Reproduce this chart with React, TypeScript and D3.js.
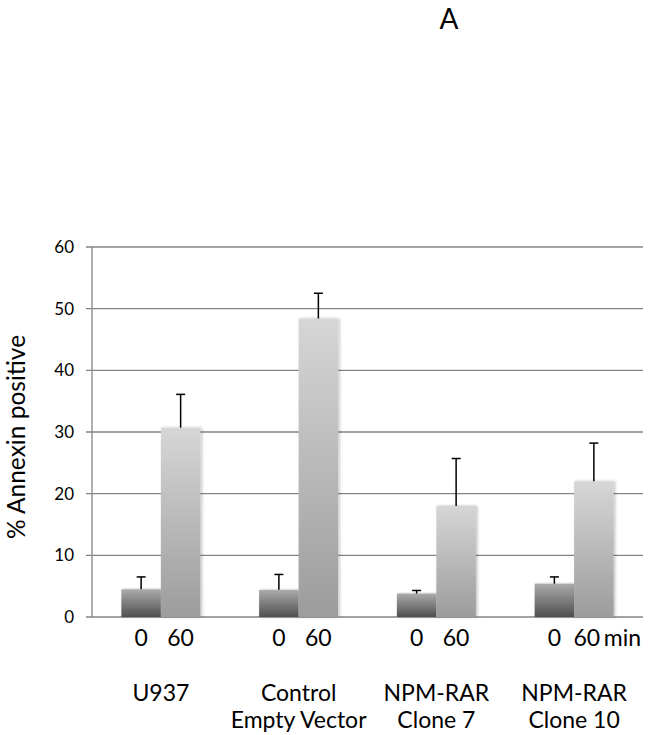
import React from "react";
import * as d3 from "d3";

const groups = ["U937", "Control|Empty Vector", "NPM-RAR|Clone 7", "NPM-RAR|Clone 10"];
const times = ["0", "60"];
const values0 = [4.5, 4.4, 3.8, 5.4];
const values60 = [30.7, 48.4, 18.0, 22.0];
const err0 = [2.0, 2.5, 0.5, 1.1];
const err60 = [5.4, 4.1, 7.7, 6.2];
const yTicks = [0, 10, 20, 30, 40, 50, 60];

const W = 652;
const H = 735;
const left = 92;
const right = 643;
const top = 247;
const bottom = 617;
const FONT = "Lato, 'Open Sans', sans-serif";

export default function App() {
  const x = d3.scaleBand<string>().domain(groups).range([left, right]).paddingInner(0).paddingOuter(0);
  const xs = d3.scaleBand<string>().domain(times).range([0, x.bandwidth()]).paddingInner(0).paddingOuter(0.744);
  const y = d3.scaleLinear().domain([0, 60]).range([bottom, top]);

  const series = [
    { key: "0", vals: values0, errs: err0, fill: "url(#g0)" },
    { key: "60", vals: values60, errs: err60, fill: "url(#g60)" },
  ];

  return (
    <div style={{ position: "absolute", left: 0, top: 0 }}>
      <svg width={W} height={H} style={{ display: "block", background: "#fff" }}>
        <defs>
          <linearGradient id="g0" x1="0" y1="0" x2="0" y2="1">
            <stop offset="0" stopColor="#ababab" />
            <stop offset="1" stopColor="#4f4f4f" />
          </linearGradient>
          <linearGradient id="g60" x1="0" y1="0" x2="0" y2="1">
            <stop offset="0" stopColor="#d6d6d6" />
            <stop offset="1" stopColor="#9c9c9c" />
          </linearGradient>
          <filter id="sh" x="-20%" y="-5%" width="140%" height="110%">
            <feDropShadow dx="1.5" dy="0" stdDeviation="1.5" floodColor="#000" floodOpacity="0.25" />
          </filter>
        </defs>

        <text x={449} y={29} textAnchor="middle" fontFamily={FONT} fontSize={28} fill="#000">A</text>

        {yTicks.map((t) => (
          <g key={t}>
            <line x1={left - 6} x2={right} y1={y(t)} y2={y(t)} stroke="#858585" strokeWidth={1.3} />
            <text x={74} y={y(t)} dy="0.35em" textAnchor="end" fontFamily={FONT} fontSize={17} fill="#000">{t}</text>
          </g>
        ))}
        <line x1={left} x2={left} y1={top} y2={bottom} stroke="#858585" strokeWidth={1.3} />

        {series.map((s) =>
          groups.map((g, i) => {
            const bx = (x(g) as number) + (xs(s.key) as number);
            const bw = xs.bandwidth();
            const v = s.vals[i];
            const cx = bx + bw / 2;
            return (
              <g key={s.key + g}>
                <rect x={bx} y={y(v)} width={bw} height={y(0) - y(v)} fill={s.fill} filter="url(#sh)" />
                <line x1={cx} x2={cx} y1={y(v)} y2={y(v + s.errs[i])} stroke="#000" strokeWidth={1.5} />
                <line x1={cx - 4.5} x2={cx + 4.5} y1={y(v + s.errs[i])} y2={y(v + s.errs[i])} stroke="#000" strokeWidth={1.5} />
              </g>
            );
          })
        )}

        {groups.map((g, i) =>
          times.map((t) => {
            const last = i === groups.length - 1 && t === "60";
            const cx = (x(g) as number) + (xs(t) as number) + xs.bandwidth() / 2 - (last ? 7 : 0);
            return (
              <text key={g + t} x={cx} y={646} textAnchor="middle" fontFamily={FONT} fontSize={23} fill="#000">{t}</text>
            );
          })
        )}
        <text x={(x(groups[3]) as number) + (xs("60") as number) + xs.bandwidth() / 2 + 10} y={646} fontFamily={FONT} fontSize={23} fill="#000">min</text>

        {groups.map((g) => {
          const lines = g.split("|");
          const cx = (x(g) as number) + x.bandwidth() / 2;
          return (
            <text key={g} x={cx} textAnchor="middle" fontFamily={FONT} fontSize={23} fill="#000">
              {lines.map((l, k) => (
                <tspan key={k} x={cx} y={701 + k * 27}>{l}</tspan>
              ))}
            </text>
          );
        })}

        <text transform={`translate(25, 437) rotate(-90)`} textAnchor="middle" fontFamily={FONT} fontSize={24.5} fill="#000">% Annexin positive</text>
      </svg>
    </div>
  );
}
